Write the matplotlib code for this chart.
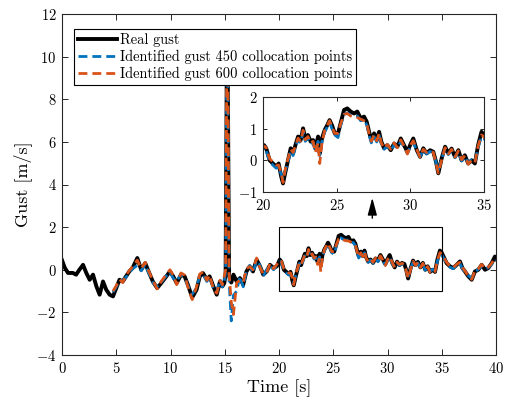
import matplotlib
matplotlib.use("Agg")
import matplotlib.pyplot as plt
from matplotlib.patches import Rectangle

plt.rcParams['font.family'] = 'serif'
plt.rcParams['font.serif'] = ['cmr10']
plt.rcParams['mathtext.fontset'] = 'cm'
plt.rcParams['axes.formatter.use_mathtext'] = True
plt.rcParams['axes.unicode_minus'] = True

# ---------------- data ----------------
t_real = [0.00, 0.25, 0.55, 1.00, 1.30, 1.60, 1.94, 2.24, 2.55, 2.86, 3.17, 3.47, 3.78, 4.08, 4.39,
          4.70, 5.00, 5.30, 5.60, 5.90, 6.20, 6.50, 6.94, 7.30, 7.67, 7.98, 8.37, 8.77, 9.14, 9.50,
          9.95, 10.25, 10.57, 10.97, 11.30, 11.60, 12.00, 12.40, 12.70, 13.00, 13.35, 13.60, 13.95,
          14.26, 14.56, 14.78, 14.96, 15.08, 15.18, 15.28, 15.40, 15.60, 15.80, 16.10, 16.40, 16.70,
          17.00, 17.30, 17.60, 17.94, 18.25, 18.55, 18.86, 19.17, 19.50, 19.80,
          20.07, 20.22, 20.45, 20.68, 20.90, 21.06, 21.24, 21.36, 21.50, 21.70, 21.88, 22.04, 22.20,
          22.38, 22.56, 22.72, 22.87, 23.05, 23.24, 23.40, 23.55, 23.74, 23.85, 24.00, 24.19, 24.36,
          24.52, 24.68, 24.87, 25.09, 25.27, 25.50, 25.72, 25.95, 26.18, 26.40, 26.63, 26.86, 27.04,
          27.20, 27.35, 27.54, 27.72, 27.88, 28.03, 28.22, 28.44, 28.67, 28.90, 29.12, 29.35, 29.57,
          29.80, 30.03, 30.20, 30.43, 30.66, 30.88, 31.10, 31.34, 31.56, 31.74, 31.90, 32.13, 32.36,
          32.58, 32.80, 33.03, 33.26, 33.48, 33.70, 33.93, 34.16, 34.38, 34.60, 34.83, 35.00, 35.45,
          35.76, 36.06, 36.37, 36.68, 36.90, 37.14, 37.45, 37.76, 38.06, 38.37, 38.68, 38.99, 39.29,
          39.60, 39.90, 40.00]

gust_real = [0.45, 0.10, -0.15, -0.15, -0.23, 0.00, 0.23, -0.15, -0.47, -0.23, -0.78, -1.17, -0.55, -0.94, -1.17,
             -1.25, -0.86, -0.47, -0.55, -0.31, -0.08, 0.08, 0.55, 0.00, 0.31, -0.08, -0.55, -0.86, -0.63, -0.39,
             -0.08, -0.31, -0.63, -0.23, -0.31, -0.70, -1.30, -0.94, -0.31, -0.16, -0.47, -0.31, -0.78,
             -1.17, -0.55, -0.78, -0.63, -0.16, 8.90, 9.00, -0.30, -0.60, -0.23, -0.55, -0.39, -0.70,
             -0.08, 0.16, -0.08, 0.47, 0.16, -0.23, -0.08, 0.23, 0.08, 0.16,
             0.48, 0.38, 0.00, -0.10, -0.20, -0.10, -0.52, -0.73, -0.41, 0.00, 0.38, 0.22, 0.48,
             0.75, 0.64, 1.01, 0.69, 0.80, 0.59, 0.64, 0.38, 0.75, 0.22, 0.69, 0.96, 1.11,
             1.27, 1.11, 0.85, 0.85, 1.17, 1.59, 1.64, 1.54, 1.48, 1.54, 1.33, 1.38, 1.22,
             0.90, 0.64, 0.85, 0.64, 0.90, 0.59, 0.38, 0.48, 0.32, 0.53, 0.43, 0.69, 0.48,
             0.27, 0.53, 0.69, 0.33, 0.11, 0.38, 0.22, 0.32, 0.27, -0.04, -0.41, 0.07, 0.43,
             0.22, 0.37, 0.11, 0.32, 0.00, 0.16, -0.10, 0.00, -0.10, 0.48, 0.90, 0.80, 0.31,
             0.16, 0.08, 0.23, 0.39, 0.08, -0.08, -0.31, -0.47, -0.08, 0.00, 0.23, 0.00, 0.08,
             0.31, 0.62, 0.50]

t_ident = t_real[15:]

gust_450 = [-1.05, -0.80, -0.55, -0.50, -0.35, -0.15, 0.05, 0.20, -0.05, 0.25, -0.15, -0.60, -0.80, -0.60, -0.35,
            -0.10, -0.40, -0.55, -0.20, -0.40, -0.75, -1.15, -0.85, -0.25, -0.20, -0.55, -0.35, -0.85,
            -1.05, -0.45, -0.80, -0.50, -0.10, 8.95, 9.10, -0.50, -2.40, -1.20, -1.00, -0.30, -0.80,
            -0.05, 0.20, -0.15, 0.45, 0.20, -0.30, 0.00, 0.20, 0.00, 0.20,
            0.40, 0.30, -0.05, -0.15, -0.25, -0.20, -0.45, -0.60, -0.35, -0.05, 0.30, 0.15, 0.40,
            0.65, 0.55, 0.90, 0.60, 0.70, 0.50, 0.55, 0.30, 0.60, 0.15, 0.60, 0.90, 1.05,
            1.20, 1.00, 0.80, 0.72, 1.10, 1.45, 1.50, 1.42, 1.38, 1.40, 1.25, 1.28, 1.12,
            0.80, 0.55, 0.75, 0.58, 0.80, 0.52, 0.35, 0.45, 0.30, 0.50, 0.38, 0.60, 0.42,
            0.22, 0.45, 0.58, 0.30, 0.12, 0.32, 0.20, 0.28, 0.22, -0.05, -0.30, 0.05, 0.38,
            0.18, 0.32, 0.08, 0.28, -0.02, 0.12, -0.08, 0.02, -0.05, 0.40, 0.75, 0.70, 0.30,
            0.12, 0.05, 0.20, 0.30, 0.05, -0.10, -0.28, -0.40, -0.10, 0.02, 0.18, 0.02, 0.10,
            0.25, 0.50, 0.45]

gust_600 = [-1.00, -0.75, -0.45, -0.60, -0.25, -0.05, 0.15, 0.45, 0.05, 0.35, -0.05, -0.50, -0.90, -0.55, -0.30,
            0.00, -0.25, -0.70, -0.15, -0.25, -0.80, -1.40, -0.80, -0.20, -0.10, -0.50, -0.25, -0.90,
            -1.10, -0.50, -0.70, -0.30, 0.00, 9.00, 9.20, -0.20, -1.50, -2.10, -0.60, -0.50, -0.60,
            0.05, 0.15, 0.00, 0.55, 0.10, -0.20, -0.15, 0.30, 0.05, 0.25,
            0.45, 0.40, 0.05, -0.05, -0.15, -0.15, -0.40, -0.70, -0.30, 0.05, 0.35, 0.25, 0.45,
            0.70, 0.60, 0.95, 0.65, 0.75, 0.55, 0.60, 0.25, 0.55, -0.10, 0.55, 0.95, 1.10,
            1.25, 1.05, 0.85, 0.85, 1.15, 1.45, 1.48, 1.40, 1.36, 1.35, 1.30, 1.25, 1.15,
            0.85, 0.60, 0.80, 0.62, 0.85, 0.55, 0.38, 0.50, 0.35, 0.55, 0.40, 0.65, 0.45,
            0.20, 0.50, 0.62, 0.35, 0.10, 0.35, 0.25, 0.30, 0.25, -0.10, -0.40, 0.02, 0.40,
            0.20, 0.35, 0.10, 0.30, 0.02, 0.15, -0.12, 0.00, -0.08, 0.45, 0.80, 0.75, 0.35,
            0.15, 0.10, 0.25, 0.35, 0.10, -0.05, -0.30, -0.45, -0.05, 0.05, 0.25, 0.05, 0.12,
            0.30, 0.55, 0.50]

labels = ['Real gust', 'Identified gust 450 collocation points', 'Identified gust 600 collocation points']
x_ticks = [0, 5, 10, 15, 20, 25, 30, 35, 40]
y_ticks = [-4, -2, 0, 2, 4, 6, 8, 10, 12]
inset_x_ticks = [20, 25, 30, 35]
inset_y_ticks = [-1, 0, 1, 2]

c_blue = '#0072BD'
c_orange = '#D95319'
spine_c = '#262626'

# ---------------- figure ----------------
fig = plt.figure(figsize=(5.05, 4.03), dpi=100)
ax = fig.add_axes([62/505, 1-355/403, 434/505, 341/403])

def draw(a):
    a.plot(t_real, gust_real, color='k', lw=2.8, solid_joinstyle='round', label=labels[0])
    a.plot(t_ident, gust_450, color=c_blue, lw=2.0, dashes=(3.2, 1.8), label=labels[1])
    a.plot(t_ident, gust_600, color=c_orange, lw=2.0, dashes=(3.2, 1.8), label=labels[2])

draw(ax)
ax.set_xlim(0, 40)
ax.set_ylim(-4, 12)
ax.set_xticks(x_ticks)
ax.set_yticks(y_ticks)
ax.tick_params(direction='in', top=True, right=True, labelsize=10.5, length=4, width=0.7,
               color=spine_c, pad=4)
for s in ax.spines.values():
    s.set_color(spine_c)
    s.set_linewidth(0.8)
ax.set_xlabel('Time [s]', fontsize=13, labelpad=3)
ax.set_ylabel('Gust [m/s]', fontsize=13, labelpad=3)

leg = ax.legend(loc='upper left', bbox_to_anchor=(0.028, 0.956), borderaxespad=0, fontsize=10.4,
                fancybox=False, framealpha=1, edgecolor='k', handlelength=2.75, handletextpad=0.2,
                labelspacing=0.22, borderpad=0.25)
leg.get_frame().set_linewidth(0.8)
leg.set_zorder(10)

# zoom rectangle
ax.add_patch(Rectangle((20, -1), 15, 3, fill=False, edgecolor='k', lw=0.8, zorder=5))

# arrow
ax.annotate('', xy=(28.6, 3.38), xytext=(28.6, 2.42),
            arrowprops=dict(arrowstyle='-|>,head_length=0.75,head_width=0.2', color='k', lw=1.0,
                            mutation_scale=14, shrinkA=0, shrinkB=0))

# inset
axi = fig.add_axes([263/505, 1-192/403, 221/505, 95/403])
draw(axi)
axi.set_xlim(20, 35)
axi.set_ylim(-1, 2)
axi.set_xticks(inset_x_ticks)
axi.set_yticks(inset_y_ticks)
axi.tick_params(direction='in', top=True, right=True, labelsize=10.5, length=3, width=0.7,
                color=spine_c, pad=4)
for s in axi.spines.values():
    s.set_color(spine_c)
    s.set_linewidth(0.8)

fig.savefig('out.png', dpi=100)
